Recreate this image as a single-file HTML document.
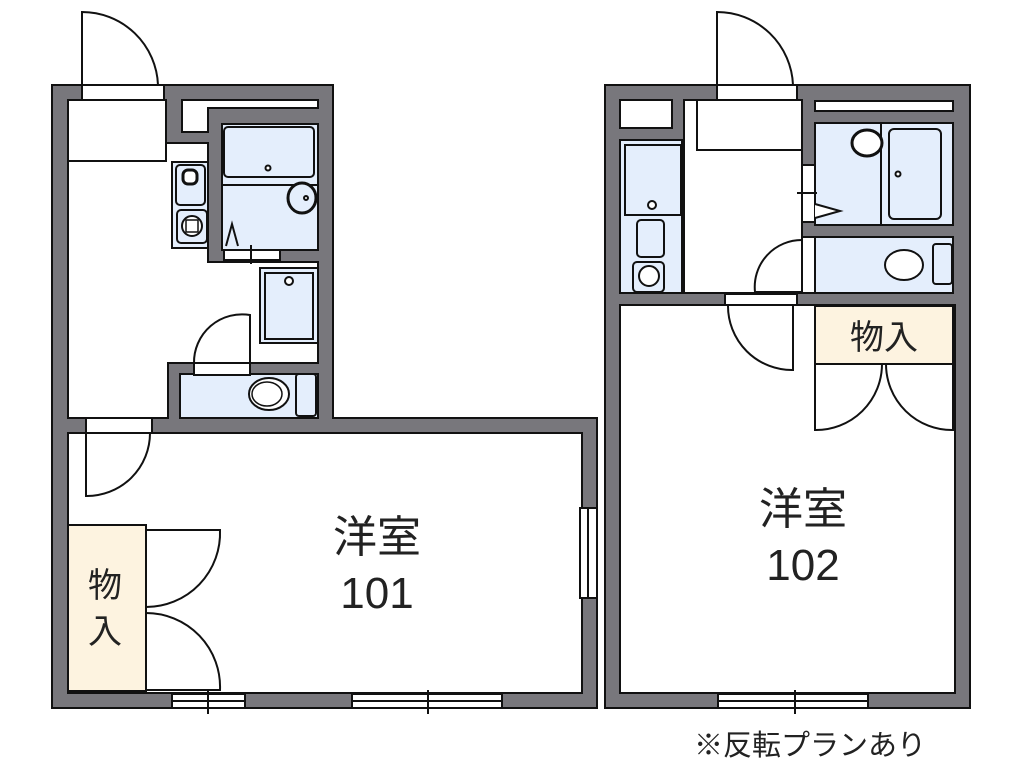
<!DOCTYPE html>
<html><head><meta charset="utf-8"><style>
html,body{margin:0;padding:0;background:#fff;}
svg{display:block}
text{font-family:"Liberation Sans","Noto Sans CJK JP",sans-serif;fill:#222}
</style></head><body>
<svg width="1018" height="774" viewBox="0 0 1018 774" xmlns="http://www.w3.org/2000/svg">
<g stroke="#111" stroke-width="2">
<!-- Unit 101 walls -->
<polygon points="52,85 333,85 333,418 597,418 597,708 52,708" fill="#78777c"/>
<polygon points="68,100 166,100 166,143 208,143 208,262 318,262 318,363 168,363 168,418 68,418" fill="#fff"/>
<rect x="68" y="100" width="98" height="61" fill="#fff"/>
<polygon points="182,100 318,100 318,108 208,108 208,132 182,132" fill="#fff"/>
<rect x="172" y="162" width="36" height="86" fill="#e4eefc"/>
<rect x="176" y="165" width="29" height="40" rx="4" fill="#e4eefc"/>
<rect x="177" y="210" width="30" height="33" rx="4" fill="#e4eefc"/>
<rect x="183" y="170" width="14" height="14" rx="5" fill="#fff" stroke-width="3"/>
<circle cx="192" cy="226" r="10" fill="#fff"/>
<rect x="186" y="220" width="12" height="12" fill="none" stroke-width="1.5"/>
<rect x="222" y="124" width="96" height="126" fill="#e4eefc"/>
<rect x="224" y="127" width="90" height="50" rx="4" fill="#e4eefc"/>
<line x1="222" y1="185" x2="318" y2="185"/>
<circle cx="268" cy="168" r="2.5" fill="#fff"/>
<ellipse cx="302" cy="198" rx="14" ry="15" fill="#e4eefc" stroke-width="3"/>
<circle cx="306" cy="198" r="2" fill="#fff"/>
<path d="M226,246 L232,224 L238,246" fill="none"/>
<rect x="224" y="250" width="56" height="10" fill="#fff"/>
<line x1="251" y1="245" x2="251" y2="264"/>
<rect x="260" y="268" width="58" height="75" fill="#e4eefc"/>
<rect x="265" y="273" width="48" height="66" fill="#e4eefc"/>
<circle cx="289" cy="281" r="4" fill="#fff"/>
<rect x="180" y="374" width="138" height="44" fill="#e4eefc"/>
<ellipse cx="269" cy="394" rx="20" ry="16" fill="#fff"/>
<ellipse cx="267" cy="394" rx="15" ry="12" fill="none" stroke-width="1.5"/>
<rect x="296" y="374" width="20" height="42" rx="3" fill="#e4eefc"/>
<rect x="194" y="363" width="56" height="12" fill="#fff"/>
<path d="M250,363 L250,315 A48,48 0 0 0 194,363" fill="none"/>
<!-- main room 101 -->
<rect x="68" y="433" width="514" height="260" fill="#fff"/>
<rect x="86" y="418" width="66" height="15" fill="#fff"/>
<path d="M86,433 L86,496 A63,63 0 0 0 150,433" fill="none"/>
<rect x="68" y="525" width="78" height="166" fill="#fdf3e0"/>
<path d="M146,530 L220,530 A74,74 0 0 1 146,607" fill="none"/>
<path d="M146,690 L220,690 A74,74 0 0 0 146,613" fill="none"/>
<rect x="580" y="508" width="17" height="90" fill="#fff"/>
<line x1="588" y1="508" x2="588" y2="598"/>
<rect x="172" y="694" width="73" height="14" fill="#fff"/>
<line x1="172" y1="701" x2="245" y2="701"/>
<line x1="208" y1="690" x2="208" y2="714"/>
<rect x="352" y="694" width="150" height="14" fill="#fff"/>
<line x1="352" y1="701" x2="502" y2="701"/>
<line x1="428" y1="690" x2="428" y2="714"/>
<rect x="82" y="85" width="82" height="15" fill="#fff"/>
<path d="M82,85 L82,12 A76,76 0 0 1 158,85" fill="none"/>

<!-- Unit 102 -->
<rect x="605" y="85" width="365" height="623" fill="#78777c"/>
<rect x="620" y="100" width="52" height="28" fill="#fff"/>
<rect x="684" y="100" width="118" height="193" fill="#fff"/>
<rect x="620" y="140" width="62" height="153" fill="#e4eefc"/>
<rect x="625" y="145" width="56" height="70" fill="#e4eefc"/>
<circle cx="652" cy="205" r="4" fill="#fff"/>
<rect x="637" y="220" width="27" height="37" rx="4" fill="#e4eefc"/>
<rect x="633" y="262" width="31" height="30" rx="4" fill="#e4eefc"/>
<circle cx="649" cy="276" r="10" fill="#fff"/>
<rect x="697" y="100" width="105" height="50" fill="#fff"/>
<rect x="815" y="101" width="138" height="10" fill="#fff"/>
<rect x="815" y="123" width="138" height="102" fill="#e4eefc"/>
<line x1="881" y1="123" x2="881" y2="225"/>
<rect x="889" y="129" width="52" height="90" rx="5" fill="#e4eefc"/>
<circle cx="898" cy="174" r="2.5" fill="#fff"/>
<ellipse cx="867" cy="143" rx="15" ry="13" fill="#fff" stroke-width="3"/>
<rect x="802" y="165" width="13" height="57" fill="#fff"/>
<line x1="797" y1="193" x2="817" y2="193"/>
<path d="M815,204 L840,211 L815,218" fill="#fff"/>
<rect x="815" y="237" width="138" height="56" fill="#e4eefc"/>
<rect x="802" y="237" width="13" height="56" fill="#fff"/>
<ellipse cx="904" cy="265" rx="19" ry="15" fill="#fff"/>
<rect x="933" y="244" width="19" height="40" rx="3" fill="#e4eefc"/>
<path d="M802,292 L755,292 A47,47 0 0 1 802,240" fill="none"/>
<!-- main room 102 -->
<rect x="620" y="305" width="335" height="388" fill="#fff"/>
<rect x="725" y="294" width="72" height="11" fill="#fff"/>
<path d="M728,305 A64,64 0 0 0 793,370 L793,305" fill="none"/>
<rect x="815" y="306" width="138" height="58" fill="#fdf3e0"/>
<path d="M815,364 L815,430 A66,66 0 0 0 882,364" fill="none"/>
<path d="M953,364 L953,430 A66,66 0 0 1 886,364" fill="none"/>
<rect x="718" y="694" width="150" height="14" fill="#fff"/>
<line x1="718" y1="701" x2="868" y2="701"/>
<line x1="795" y1="690" x2="795" y2="714"/>
<rect x="717" y="85" width="80" height="15" fill="#fff"/>
<path d="M717,85 L717,12 A76,76 0 0 1 793,85" fill="none"/>
</g>
<g font-size="44" text-anchor="middle">
<text x="377" y="552">洋室</text>
<text x="377" y="608">101</text>
<text x="803" y="524">洋室</text>
<text x="803" y="580">102</text>
</g>
<g font-size="34" text-anchor="middle">
<text x="105" y="597">物</text>
<text x="105" y="643">入</text>
<text x="884" y="349">物入</text>
</g>
<text x="810" y="755" font-size="29" text-anchor="middle">※反転プランあり</text>
</svg>
</body></html>
